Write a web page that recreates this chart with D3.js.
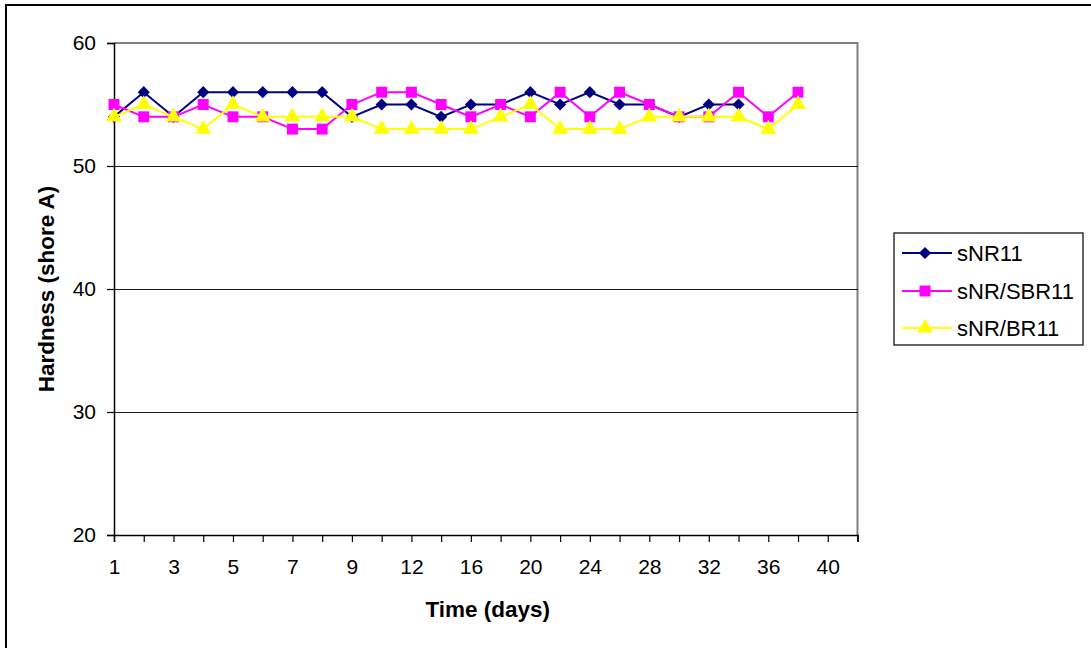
<!DOCTYPE html>
<html>
<head>
<meta charset="utf-8">
<script src="https://cdn.jsdelivr.net/npm/d3@7"></script>
<style>
  html, body { margin: 0; padding: 0; background: #fff; }
  svg { display: block; font-family: "Liberation Sans", Arial, sans-serif; }
</style>
</head>
<body>
<svg id="chart" width="1091" height="648"></svg>
<script>
// Sampling days (category axis)
const days = [1, 2, 3, 4, 5, 6, 7, 8, 9, 10, 12, 14, 16, 18, 20, 22, 24, 26, 28, 30, 32, 34, 36, 38, 40];

// Hardness readings (shore A) per compound
const sNR11    = [54, 56, 54, 56, 56, 56, 56, 56, 54, 55, 55, 54, 55, 55, 56, 55, 56, 55, 55, 54, 55, 55];
const sNRSBR11 = [55, 54, 54, 55, 54, 54, 53, 53, 55, 56, 56, 55, 54, 55, 54, 56, 54, 56, 55, 54, 54, 56, 54, 56];
const sNRBR11  = [54, 55, 54, 53, 55, 54, 54, 54, 54, 53, 53, 53, 53, 54, 55, 53, 53, 53, 54, 54, 54, 54, 53, 55];

const yTicks = [20, 30, 40, 50, 60];

const seriesNames  = ["sNR11", "sNR/SBR11", "sNR/BR11"];
const seriesValues = [sNR11, sNRSBR11, sNRBR11];
const seriesColors = ["#000080", "#FF00FF", "#FFFF00"];
// diamond = square turned 45 degrees
const seriesShapes = [d3.symbolSquare, d3.symbolSquare, d3.symbolTriangle];
const shapeRotate  = [45, 0, 0];
const shapeSizes   = [74, 120, 110];

const svg = d3.select("#chart");

// outer frame
svg.append("rect")
  .attr("x", 6).attr("y", 5)
  .attr("width", 1100).attr("height", 660)
  .attr("fill", "#fff")
  .attr("stroke", "#000").attr("stroke-width", 2);

const plot = { left: 114, top: 43, right: 857.5, bottom: 535 };

// one extra category slot at the right end of the axis
const x = d3.scaleLinear().domain([0, days.length]).range([plot.left, plot.right]);
const y = d3.scaleLinear().domain([20, 60]).range([plot.bottom, plot.top]);

// plot area outline (top/right)
svg.append("path")
  .attr("d", `M${plot.left},${plot.top}H${plot.right}V${plot.bottom}`)
  .attr("fill", "none")
  .attr("stroke", "#808080").attr("stroke-width", 2);

// horizontal gridlines
svg.append("g")
  .selectAll("line")
  .data(yTicks.filter(v => v > 20 && v < 60))
  .join("line")
  .attr("x1", plot.left).attr("x2", plot.right)
  .attr("y1", d => y(d) + 0.5).attr("y2", d => y(d) + 0.5)
  .attr("stroke", "#1a1a1a").attr("stroke-width", 1)
  .attr("shape-rendering", "crispEdges");

// x axis
const xAxis = d3.axisBottom(x)
  .tickValues(d3.range(days.length + 1))
  .tickSize(7)
  .tickPadding(17)
  .tickFormat(i => (i % 2 === 0 && i < days.length) ? days[i] : "");

const gx = svg.append("g")
  .attr("transform", `translate(0,${plot.bottom})`)
  .call(xAxis);
gx.select(".domain").attr("stroke", "#000").attr("stroke-width", 1.5);
gx.selectAll(".tick line").attr("stroke", "#000").attr("stroke-width", 1.2);
gx.selectAll(".tick text")
  .attr("fill", "#000")
  .style("font-size", "21px")
  .style("font-family", "'Liberation Sans', Arial, sans-serif");

// y axis
const yAxis = d3.axisLeft(y)
  .tickValues(yTicks)
  .tickSize(7)
  .tickPadding(11);

const gy = svg.append("g")
  .attr("transform", `translate(${plot.left},0)`)
  .call(yAxis);
gy.select(".domain").attr("stroke", "#000").attr("stroke-width", 1.5);
gy.selectAll(".tick line").attr("stroke", "#000").attr("stroke-width", 1.2);
gy.selectAll(".tick text")
  .attr("fill", "#000")
  .style("font-size", "21px")
  .style("font-family", "'Liberation Sans', Arial, sans-serif");

// axis titles
svg.append("text")
  .attr("x", (plot.left + plot.right) / 2 + 2)
  .attr("y", 617)
  .attr("text-anchor", "middle")
  .style("font-size", "22.5px")
  .style("font-weight", "bold")
  .text("Time (days)");

svg.append("text")
  .attr("transform", `translate(54,${(plot.top + plot.bottom) / 2}) rotate(-90)`)
  .attr("text-anchor", "middle")
  .style("font-size", "22.5px")
  .style("font-weight", "bold")
  .text("Hardness (shore A)");

// series: line then markers, in series order
const line = d3.line()
  .x((d, i) => x(i))
  .y(d => y(d));

seriesValues.forEach((vals, s) => {
  const g = svg.append("g");
  g.append("path")
    .datum(vals)
    .attr("d", line)
    .attr("fill", "none")
    .attr("stroke", seriesColors[s])
    .attr("stroke-width", 2);
  g.selectAll("path.marker")
    .data(vals)
    .join("path")
    .attr("class", "marker")
    .attr("transform", (d, i) => `translate(${x(i)},${y(d)}) rotate(${shapeRotate[s]})`)
    .attr("d", d3.symbol().type(seriesShapes[s]).size(shapeSizes[s]))
    .attr("fill", seriesColors[s]);
});

// legend
const legend = svg.append("g");
legend.append("rect")
  .attr("x", 894).attr("y", 233)
  .attr("width", 189).attr("height", 112)
  .attr("fill", "#fff")
  .attr("stroke", "#000").attr("stroke-width", 1.2);

const rowY = [253, 291, 328];
seriesNames.forEach((name, s) => {
  const row = legend.append("g").attr("transform", `translate(0,${rowY[s]})`);
  row.append("line")
    .attr("x1", 902).attr("x2", 952)
    .attr("y1", 0).attr("y2", 0)
    .attr("stroke", seriesColors[s]).attr("stroke-width", 2);
  row.append("path")
    .attr("transform", `translate(925,0) rotate(${shapeRotate[s]})`)
    .attr("d", d3.symbol().type(seriesShapes[s]).size(shapeSizes[s]))
    .attr("fill", seriesColors[s]);
  row.append("text")
    .attr("x", 957).attr("y", 0)
    .attr("dy", "0.35em")
    .style("font-size", "22px")
    .text(name);
});
</script>
</body>
</html>
